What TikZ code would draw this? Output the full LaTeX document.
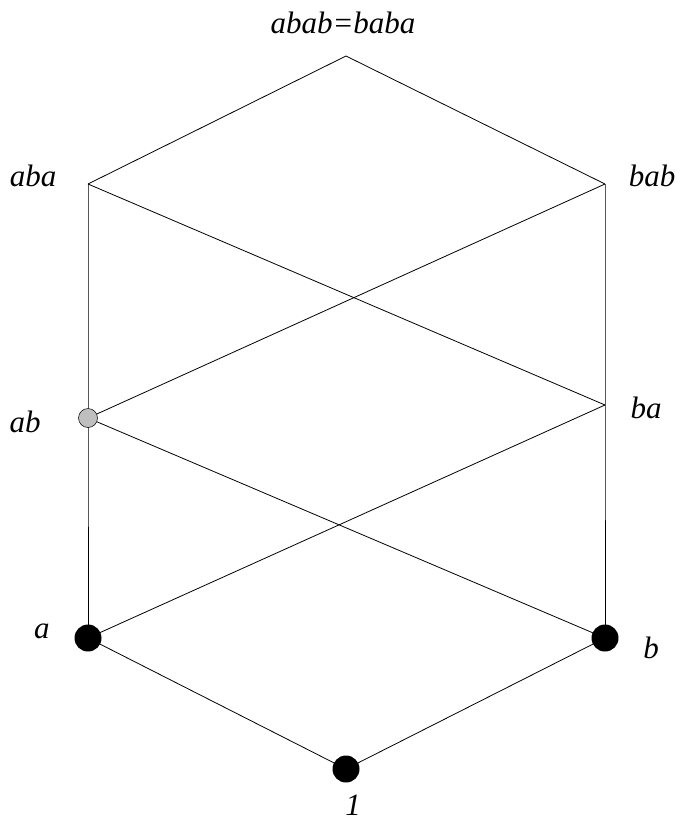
\documentclass[tikz,border=0pt]{standalone}
\usepackage{fontspec}
\setmainfont{Liberation Serif}
\begin{document}
\begin{tikzpicture}[x=1pt,y=-1pt,
  edge/.style={draw=black,line width=0.8pt},
  bigdot/.style={circle,fill=black,inner sep=0pt,minimum size=27pt},
  graydot/.style={circle,draw=black,line width=0.5pt,fill=black!25,inner sep=0pt,minimum size=19pt},
  lbl/.style={anchor=base,inner sep=0pt,text depth=0pt,font=\fontsize{31}{33}\selectfont\itshape}]
\useasboundingbox (0,0) rectangle (683,822);
% vertices
\coordinate (top) at (346,56);
\coordinate (aba) at (88,184);
\coordinate (bab) at (605,184);
\coordinate (ab) at (88,418);
\coordinate (ba) at (605,405);
\coordinate (a) at (88,638);
\coordinate (b) at (605,638);
\coordinate (one) at (346,769);
% edges
\draw[edge] (aba) -- (top) -- (bab);
\draw[edge] (aba) -- (ab) -- (a);
\draw[edge] (bab) -- (ba) -- (b);
\draw[edge] (aba) -- (ba);
\draw[edge] (bab) -- (ab);
\draw[edge] (ab) -- (b);
\draw[edge] (ba) -- (a);
\draw[edge] (a) -- (one) -- (b);
% dots
\node[graydot] (abdot) at (ab) {};
\node[bigdot] (adot) at (a) {};
\node[bigdot] (bdot) at (b) {};
\node[bigdot] (onedot) at (one) {};
% labels
\node[lbl] (ltop) at (343,33) {abab=baba};
\node[lbl] (laba) at (33,186) {aba};
\node[lbl] (lbab) at (652,186) {bab};
\node[lbl] (lab) at (25,432) {ab};
\node[lbl] (lba) at (646,418) {ba};
\node[lbl] (la) at (42,638) {a};
\node[lbl] (lb) at (651,658) {b};
\node[lbl] (lone) at (353,815) {1};
\end{tikzpicture}
\end{document}
